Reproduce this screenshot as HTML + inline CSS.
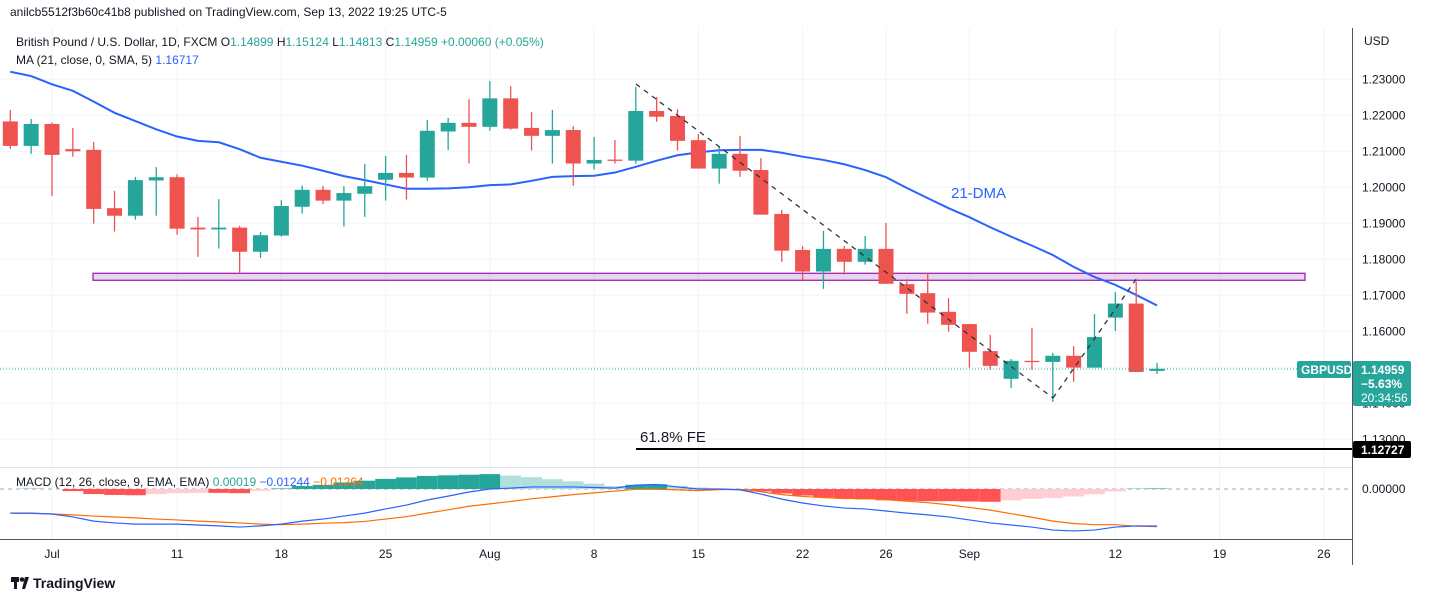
<!DOCTYPE html>
<html><head><meta charset="utf-8"><style>
html,body{margin:0;padding:0;background:#fff;}
body{width:1432px;height:602px;overflow:hidden;font-family:"Liberation Sans",sans-serif;}
svg text{font-family:"Liberation Sans",sans-serif;}
</style></head><body>
<svg id="chart" width="1432" height="602" viewBox="0 0 1432 602" xmlns="http://www.w3.org/2000/svg">
<g id="grid"></g>
<rect x="93" y="273.3" width="1212" height="7" fill="rgba(156,39,176,0.2)" stroke="#9c27b0" stroke-width="1.3"/>
<g id="ma"></g>
<g id="candles"></g>
<line x1="636" y1="84" x2="1053" y2="398" stroke="#333" stroke-width="1.3" stroke-dasharray="5,5"/>
<line x1="1053" y1="398" x2="1137" y2="278" stroke="#333" stroke-width="1.3" stroke-dasharray="5,5"/>
<line x1="636" y1="449" x2="1352" y2="449" stroke="#000" stroke-width="2"/>
<text x="640" y="442" font-size="15" fill="#131722">61.8% FE</text>
<text x="951" y="198" font-size="15" fill="#2962ff">21-DMA</text>
<line x1="0" y1="369" x2="1352" y2="369" stroke="#26a69a" stroke-width="1" stroke-dasharray="1,2"/>
<g id="macd"></g>
<line x1="0" y1="467.5" x2="1352" y2="467.5" stroke="#e0e3eb" stroke-width="1"/>
<line x1="0" y1="539.5" x2="1352" y2="539.5" stroke="#50535e" stroke-width="1"/>
<line x1="1352.5" y1="28" x2="1352.5" y2="565" stroke="#50535e" stroke-width="1"/>
<g id="yaxis"></g>
<g id="xaxis"></g>
<text x="1364" y="45" font-size="12" fill="#131722">USD</text>
<text x="1362" y="493" font-size="12" fill="#131722">0.00000</text>
<rect x="1297" y="361" width="54" height="17" rx="2" fill="#26a69a"/>
<text x="1301" y="374" font-size="12" font-weight="bold" fill="#fff">GBPUSD</text>
<rect x="1353" y="361" width="58" height="45" rx="2" fill="#26a69a"/>
<text x="1361" y="374" font-size="12" font-weight="bold" fill="#fff">1.14959</text>
<text x="1361" y="388" font-size="12" font-weight="bold" fill="#fff">−5.63%</text>
<text x="1361" y="402" font-size="12" fill="#fff">20:34:56</text>
<rect x="1353" y="441" width="58" height="17" rx="2" fill="#000"/>
<text x="1361" y="454" font-size="12" font-weight="bold" fill="#fff">1.12727</text>
<rect x="0" y="0" width="1432" height="27" fill="#fff"/>
<text x="10" y="16" font-size="12" fill="#131722">anilcb5512f3b60c41b8 published on TradingView.com, Sep 13, 2022 19:25 UTC-5</text>
<text x="16" y="46" font-size="12" fill="#131722">British Pound / U.S. Dollar, 1D, FXCM <tspan fill="#131722">O</tspan><tspan fill="#26a69a">1.14899</tspan> <tspan>H</tspan><tspan fill="#26a69a">1.15124</tspan> <tspan>L</tspan><tspan fill="#26a69a">1.14813</tspan> <tspan>C</tspan><tspan fill="#26a69a">1.14959 +0.00060 (+0.05%)</tspan></text>
<text x="16" y="64" font-size="12" fill="#131722">MA (21, close, 0, SMA, 5) <tspan fill="#2962ff">1.16717</tspan></text>
<text x="16" y="486" font-size="12" fill="#131722">MACD (12, 26, close, 9, EMA, EMA) <tspan fill="#26a69a">0.00019</tspan> <tspan fill="#2962ff">−0.01244</tspan> <tspan fill="#ff6d00">−0.01264</tspan></text>
<g>
<rect x="11" y="577" width="8" height="5" fill="#131722"/><rect x="14" y="577" width="3" height="12" fill="#131722"/><circle cx="22" cy="579.5" r="2.3" fill="#131722"/><path d="M25 577 h4 l-4 12 h-3z" fill="#131722"/>
<text x="33" y="588" font-size="14" font-weight="bold" fill="#131722">TradingView</text></g>
</svg>
<script>
const opens=[1.2183,1.2115,1.2176,1.2106,1.2104,1.1942,1.1921,1.2019,1.2028,1.1888,1.1883,1.1888,1.1821,1.1866,1.1946,1.1993,1.1963,1.1982,1.2021,1.2040,1.2027,1.2155,1.2179,1.2168,1.2247,1.2165,1.2143,1.2159,1.2066,1.2077,1.2074,1.2212,1.2198,1.2131,1.2052,1.2093,1.2048,1.1926,1.1826,1.1766,1.1829,1.1793,1.1829,1.1731,1.1706,1.1654,1.1620,1.1545,1.1468,1.1518,1.1515,1.1532,1.1499,1.1638,1.1677,1.14899];
const highs=[1.2215,1.2190,1.2180,1.2165,1.2126,1.1990,1.2029,1.2056,1.2036,1.1918,1.1967,1.1893,1.1876,1.1964,1.2005,1.2004,1.2003,1.2065,1.2087,1.2090,1.2187,1.2193,1.2245,1.2295,1.2281,1.2209,1.2215,1.2170,1.2140,1.2131,1.2279,1.2251,1.2217,1.2148,1.2115,1.2143,1.2081,1.1937,1.1837,1.1879,1.1837,1.1865,1.1901,1.1745,1.1761,1.1692,1.1620,1.1590,1.1523,1.1610,1.1540,1.1559,1.1648,1.1709,1.1738,1.15124];
const lows=[1.2107,1.2093,1.1976,1.2085,1.1899,1.1877,1.1910,1.1921,1.1868,1.1807,1.1830,1.1761,1.1804,1.1863,1.1927,1.1954,1.1891,1.1918,1.1963,1.1966,1.2018,1.2104,1.2066,1.2157,1.2160,1.2102,1.2066,1.2004,1.2049,1.2066,1.2066,1.2182,1.2102,1.2052,1.2010,1.2029,1.1924,1.1793,1.1741,1.1718,1.1758,1.1785,1.1732,1.1649,1.1621,1.1599,1.1499,1.1493,1.1443,1.1493,1.1404,1.1460,1.1499,1.1601,1.1487,1.14813];
const closes=[1.2115,1.2176,1.2090,1.2100,1.1940,1.1921,1.2020,1.2028,1.1885,1.1883,1.1888,1.1821,1.1867,1.1948,1.1993,1.1963,1.1984,1.2003,1.2040,1.2027,1.2157,1.2179,1.2168,1.2247,1.2163,1.2143,1.2159,1.2066,1.2076,1.2074,1.2212,1.2196,1.2129,1.2052,1.2093,1.2046,1.1924,1.1824,1.1766,1.1829,1.1793,1.1829,1.1732,1.1704,1.1652,1.1618,1.1543,1.1504,1.1518,1.1515,1.1532,1.1499,1.1584,1.1677,1.1487,1.14959];
const ma21=[1.2321,1.2309,1.2286,1.2268,1.2238,1.2207,1.2184,1.2161,1.2141,1.2129,1.2125,1.2106,1.2082,1.2071,1.2060,1.2046,1.2031,1.2020,1.2008,1.1996,1.1996,1.1997,1.2000,1.2006,1.2008,1.2018,1.2029,1.2031,1.2032,1.2041,1.2057,1.2074,1.2089,1.2097,1.2103,1.2104,1.2104,1.2096,1.2085,1.2076,1.2064,1.2048,1.2028,1.1998,1.1970,1.1942,1.1917,1.1889,1.1863,1.1838,1.1812,1.1779,1.1751,1.1729,1.1701,1.16717];
const macdLine=[-0.0081,-0.0081,-0.0084,-0.0094,-0.0108,-0.0114,-0.0118,-0.0118,-0.0118,-0.0121,-0.0124,-0.0128,-0.0124,-0.0118,-0.0108,-0.0101,-0.0091,-0.0081,-0.0067,-0.0054,-0.0037,-0.0024,-0.0010,0.0000,0.0003,0.0007,0.0007,0.0007,0.0005,0.0003,0.0013,0.0015,0.0007,0.0000,0.0000,-0.0003,-0.0017,-0.0034,-0.0047,-0.0057,-0.0064,-0.0067,-0.0074,-0.0081,-0.0087,-0.0094,-0.0104,-0.0114,-0.0121,-0.0128,-0.0138,-0.0141,-0.0138,-0.0128,-0.0124,-0.01244];
const signalLine=[-0.0081,-0.0082,-0.0084,-0.0087,-0.0091,-0.0094,-0.0097,-0.0101,-0.0104,-0.0108,-0.0111,-0.0114,-0.0118,-0.0120,-0.0118,-0.0115,-0.0113,-0.0109,-0.0101,-0.0093,-0.0081,-0.0070,-0.0058,-0.0050,-0.0042,-0.0033,-0.0026,-0.0019,-0.0013,-0.0007,-0.0001,-0.0001,-0.0003,-0.0005,-0.0002,-0.0001,-0.0009,-0.0019,-0.0025,-0.0029,-0.0032,-0.0032,-0.0036,-0.0041,-0.0046,-0.0053,-0.0062,-0.0071,-0.0083,-0.0095,-0.0108,-0.0116,-0.0120,-0.0120,-0.0125,-0.01264];
const priceTicks=[1.23,1.22,1.21,1.20,1.19,1.18,1.17,1.16,1.15,1.14,1.13];
const priceTickLabels=["1.23000","1.22000","1.21000","1.20000","1.19000","1.18000","1.17000","1.16000","1.15000","1.14000","1.13000"];
const dateIdx=[2,8,13,18,23,28,33,38,42,46,53,58,63];
const dateLabels=["Jul","11","18","25","Aug","8","15","22","26","Sep","12","19","26"];

const NS="http://www.w3.org/2000/svg";
function xOf(i){return 52+(i-2)*20.85;}
function yOf(p){return 79.3+(1.23-p)*3600;}
function yM(v){return 489-v*2975;}
function mk(tag,attrs,parent){const e=document.createElementNS(NS,tag);for(const k in attrs)e.setAttribute(k,attrs[k]);parent.appendChild(e);return e;}
const grid=document.getElementById('grid');
priceTicks.forEach(function(p){const l=mk('line',{x1:0,x2:1352,y1:yOf(p),y2:yOf(p),stroke:'#f0f3fa','stroke-width':1},grid);

});
dateIdx.forEach(function(i){const l=mk('line',{x1:xOf(i),x2:xOf(i),y1:28,y2:539,stroke:'#f0f3fa','stroke-width':1},grid);

});
const yaxis=document.getElementById('yaxis');
priceTicks.forEach(function(p,k){const t=mk('text',{x:1362,y:yOf(p)+4,'font-size':12,fill:'#131722'},yaxis);t.textContent=priceTickLabels[k];

});
const xaxis=document.getElementById('xaxis');
dateIdx.forEach(function(i,k){const t=mk('text',{x:xOf(i),y:558,'font-size':12,fill:'#131722','text-anchor':'middle'},xaxis);t.textContent=dateLabels[k];

});
const ma=document.getElementById('ma');
const mp=mk('polyline',{points:ma21.map(function(v,i){return xOf(i)+','+yOf(v);}).join(' '),fill:'none',stroke:'#2962ff','stroke-width':2},ma);


const cg=document.getElementById('candles');
opens.forEach(function(o,i){const c=closes[i];const col=c>=o?'#26a69a':'#ef5350';const x=xOf(i);
const w=mk('line',{x1:x,x2:x,y1:yOf(highs[i]),y2:yOf(lows[i]),stroke:col,'stroke-width':1.3},cg);


const top=yOf(Math.max(o,c)),bot=yOf(Math.min(o,c));
const b=mk('rect',{x:x-7.5,y:top,width:15,height:Math.max(1.3,bot-top),fill:col},cg);

});
const mg=document.getElementById('macd');
const zl=mk('line',{x1:0,x2:1352,y1:489,y2:489,stroke:'#aaa','stroke-width':1,'stroke-dasharray':'4,4'},mg);


let prev=0;
macdLine.forEach(function(m,i){const h=m-signalLine[i];let col;
if(h>=0)col=h>=prev?'#26a69a':'#b2dfdb';else col=h<=prev?'#ff5252':'#ffcdd2';prev=h;
const y0=yM(0),y1=yM(h);
const r=mk('rect',{x:xOf(i)-10.4,y:Math.min(y0,y1),width:20.8,height:Math.abs(y1-y0),fill:col},mg);

});
const sl=mk('polyline',{points:signalLine.map(function(v,i){return xOf(i)+','+yM(v);}).join(' '),fill:'none',stroke:'#ff6d00','stroke-width':1.2},mg);


const ml=mk('polyline',{points:macdLine.map(function(v,i){return xOf(i)+','+yM(v);}).join(' '),fill:'none',stroke:'#2962ff','stroke-width':1.2},mg);


</script>
</body></html>
